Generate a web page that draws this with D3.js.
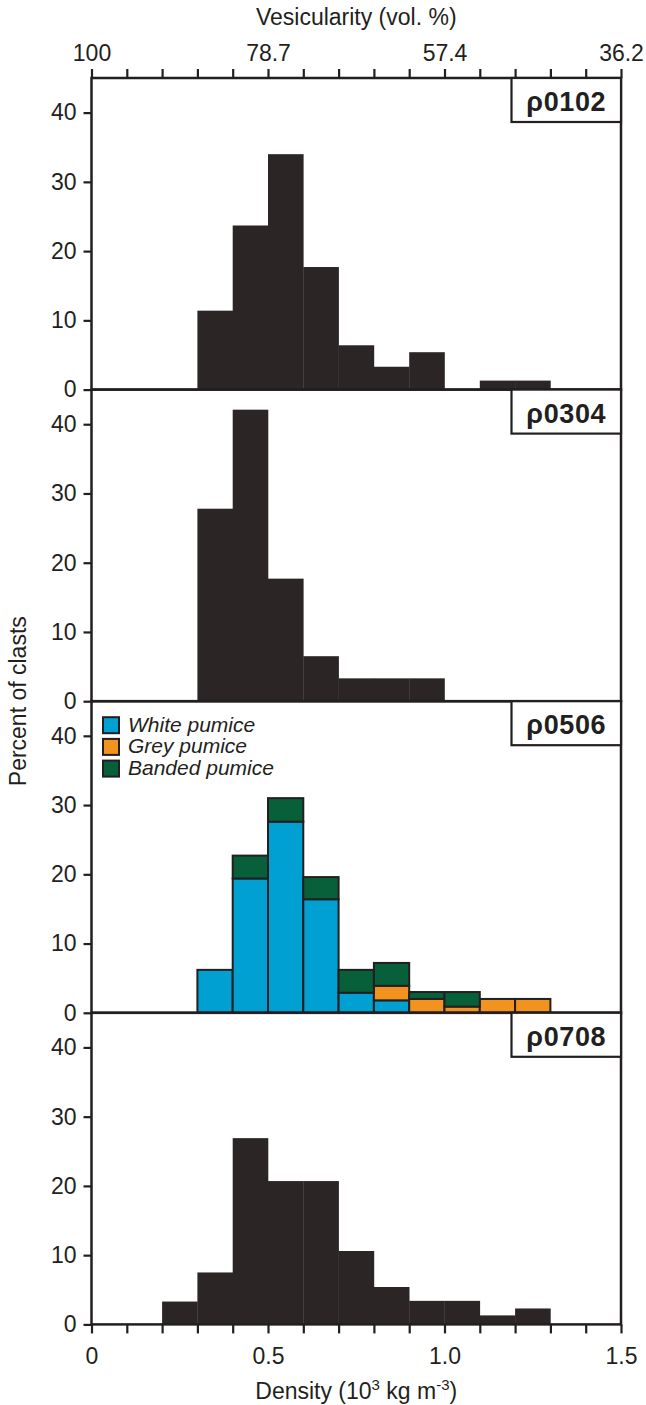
<!DOCTYPE html>
<html>
<head>
<meta charset="utf-8">
<script src="https://cdn.jsdelivr.net/npm/d3@7"></script>
<style>
  body { margin: 0; background: #fff; }
  text { font-family: "Liberation Sans", Arial, sans-serif; fill: #231f20; }
</style>
</head>
<body>
<div class="canvas"></div>
<script>
// bins: lower edge of each 0.1 density bin
const binStarts = [0.2, 0.3, 0.4, 0.5, 0.6, 0.7, 0.8, 0.9, 1.0, 1.1, 1.2];
const binWidth = 0.1;

// percent of clasts per bin
const p0102 = [0, 11.4, 23.7, 34.0, 17.7, 6.4, 3.3, 5.4, 0, 1.3, 1.3];
const p0304 = [0, 27.8, 42.1, 17.7, 6.5, 3.3, 3.3, 3.3, 0, 0, 0];
const white0506 = [0, 6.2, 19.4, 27.6, 16.4, 2.9, 1.8, 0, 0, 0, 0];
const grey0506 = [0, 0, 0, 0, 0, 0, 2.1, 2.0, 0.9, 2.0, 2.0];
const banded0506 = [0, 0, 3.3, 3.4, 3.2, 3.3, 3.3, 1.0, 2.1, 0, 0];
const p0708 = [3.3, 7.5, 26.9, 20.7, 20.7, 10.6, 5.4, 3.4, 3.4, 1.3, 2.3];

const panelNames = ['ρ0102', 'ρ0304', 'ρ0506', 'ρ0708'];
const yTicks = [0, 10, 20, 30, 40];
const xTicks = d3.range(0, 1.51, 0.1).map(d => +d.toFixed(1));
const bottomLabels = ['0', '0.5', '1.0', '1.5'];
const topLabels = ['100', '78.7', '57.4', '36.2'];
const legendNames = ['White pumice', 'Grey pumice', 'Banded pumice'];

const ink = '#231f20';
const barFill = '#2b2526';
const colours = {white: '#00a0d2', grey: '#f3931f', banded: '#08603a'};

const width = 646, height = 1405;
const plotLeft = 91.5, plotRight = 621;
const plotTop = 78, panelH = 311.6;

const svg = d3.select('.canvas')
    .append('svg')
    .attr('width', width)
    .attr('height', height);

const x = d3.scaleLinear().domain([0, 1.5]).range([plotLeft, plotRight]);

const panels = [
    {name: panelNames[0], values: p0102},
    {name: panelNames[1], values: p0304},
    {name: panelNames[2], stacked: true},
    {name: panelNames[3], values: p0708}
];

// stacked rows for the 0506 panel
const rows = binStarts.map((b, i) => ({start: b, white: white0506[i], grey: grey0506[i], banded: banded0506[i]}));
const stack = d3.stack().keys(['white', 'grey', 'banded']);

panels.forEach((p, k) => {
    const y0 = plotTop + k * panelH;
    const base = y0 + panelH;
    const y = d3.scaleLinear().domain([0, 45]).range([base, y0]);
    const g = svg.append('g');

    if (p.stacked) {
        const series = stack(rows);
        series.forEach(s => {
            g.selectAll(null)
                .data(s.filter(d => d[1] - d[0] > 0))
                .enter().append('rect')
                .attr('x', d => x(d.data.start))
                .attr('width', d => x(d.data.start + binWidth) - x(d.data.start))
                .attr('y', d => y(d[1]))
                .attr('height', d => y(d[0]) - y(d[1]))
                .attr('fill', colours[s.key])
                .attr('stroke', ink)
                .attr('stroke-width', 2);
        });
    } else {
        g.selectAll('rect.bar')
            .data(binStarts.map((b, i) => ({start: b, v: p.values[i]})).filter(d => d.v > 0))
            .enter().append('rect')
            .attr('class', 'bar')
            .attr('x', d => x(d.start))
            .attr('width', d => x(d.start + binWidth) - x(d.start) + 0.3)
            .attr('y', d => y(d.v))
            .attr('height', d => base - y(d.v))
            .attr('fill', barFill);
    }

    // y axis
    const yAxis = d3.axisLeft(y).tickValues(yTicks).tickSize(8).tickPadding(7);
    const ya = g.append('g').attr('transform', `translate(${plotLeft},0)`).call(yAxis);
    ya.select('.domain').remove();
    ya.selectAll('line').attr('stroke', ink).attr('stroke-width', 2.2);
    ya.selectAll('text').style('font-size', '23px').attr('fill', ink);

    // frame
    g.append('rect')
        .attr('x', plotLeft).attr('y', y0)
        .attr('width', plotRight - plotLeft).attr('height', panelH)
        .attr('fill', 'none').attr('stroke', ink).attr('stroke-width', 2.5);

    // name box
    const bx = 511.5, bh = 44;
    g.append('rect')
        .attr('x', bx).attr('y', y0)
        .attr('width', plotRight - bx).attr('height', bh)
        .attr('fill', '#fff').attr('stroke', ink).attr('stroke-width', 2.2);
    g.append('text')
        .attr('x', (bx + plotRight) / 2).attr('y', y0 + 33)
        .attr('text-anchor', 'middle')
        .style('font-size', '27px').style('font-weight', 'bold')
        .style('letter-spacing', '0.6px')
        .text(p.name);

    if (p.stacked) {
        const lg = g.append('g').attr('transform', `translate(103,${y0 + 16})`);
        ['white', 'grey', 'banded'].forEach((key, i) => {
            lg.append('rect')
                .attr('x', 0).attr('y', i * 21.7)
                .attr('width', 16).attr('height', 16)
                .attr('fill', colours[key]).attr('stroke', ink).attr('stroke-width', 2);
            lg.append('text')
                .attr('x', 25).attr('y', i * 21.7 + 14.5)
                .style('font-size', '21px').style('font-style', 'italic')
                .text(legendNames[i]);
        });
    }
});

const plotBottom = plotTop + 4 * panelH;

// bottom axis
const xAxis = d3.axisBottom(x).tickValues(xTicks).tickSize(9).tickPadding(14)
    .tickFormat((d, i) => i % 5 === 0 ? bottomLabels[i / 5] : '');
const xa = svg.append('g').attr('transform', `translate(0,${plotBottom})`).call(xAxis);
xa.select('.domain').remove();
xa.selectAll('line').attr('stroke', ink).attr('stroke-width', 2.2);
xa.selectAll('text').style('font-size', '23px').attr('fill', ink);

// top axis (vesicularity)
const tAxis = d3.axisTop(x).tickValues(xTicks).tickSize(9).tickPadding(8)
    .tickFormat((d, i) => i % 5 === 0 ? topLabels[i / 5] : '');
const ta = svg.append('g').attr('transform', `translate(0,${plotTop})`).call(tAxis);
ta.select('.domain').remove();
ta.selectAll('line').attr('stroke', ink).attr('stroke-width', 2.2);
ta.selectAll('text').style('font-size', '23px').attr('fill', ink);

// titles
svg.append('text')
    .attr('x', (plotLeft + plotRight) / 2).attr('y', 25)
    .attr('text-anchor', 'middle')
    .style('font-size', '23px')
    .text('Vesicularity (vol. %)');

const dt = svg.append('text')
    .attr('x', (plotLeft + plotRight) / 2).attr('y', 1399)
    .attr('text-anchor', 'middle')
    .style('font-size', '23px');
dt.append('tspan').text('Density (10');
dt.append('tspan').attr('dy', -9).style('font-size', '15px').text('3');
dt.append('tspan').attr('dy', 9).text(' kg m');
dt.append('tspan').attr('dy', -9).style('font-size', '15px').text('-3');
dt.append('tspan').attr('dy', 9).text(')');

svg.append('text')
    .attr('transform', `translate(26,${(plotTop + plotBottom) / 2}) rotate(-90)`)
    .attr('text-anchor', 'middle')
    .style('font-size', '23px')
    .text('Percent of clasts');
</script>
</body>
</html>
